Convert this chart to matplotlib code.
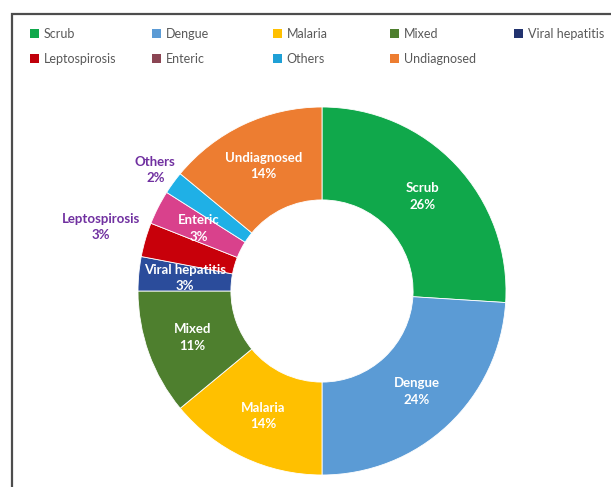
import numpy as np
import matplotlib
matplotlib.use("Agg")
import matplotlib.pyplot as plt
from matplotlib.patches import Rectangle, Patch

categories = ["Scrub", "Dengue", "Malaria", "Mixed", "Viral hepatitis",
              "Leptospirosis", "Enteric", "Others", "Undiagnosed"]
values = [26, 24, 14, 11, 3, 3, 3, 2, 14]
pct_labels = ["26%", "24%", "14%", "11%", "3%", "3%", "3%", "2%", "14%"]

colors = ["#10A84B", "#5B9BD5", "#FFC000", "#4E7F2E", "#2B4C9B",
          "#C8000A", "#D9418C", "#1FB0E6", "#ED7D31"]
legend_colors = ["#10A84B", "#5B9BD5", "#FFC000", "#4E7F2E", "#22336F",
                 "#C0000A", "#8B4553", "#1FA0D6", "#ED7D31"]
outside = {"Leptospirosis": 1.25, "Others": 1.12}

plt.rcParams['font.family'] = ['Lato', 'DejaVu Sans']

W, H = 611, 487
fig = plt.figure(figsize=(W / 100, H / 100), dpi=100)

cx, cy, R = 322, 291, 184
ax = fig.add_axes([(cx - R) / W, (H - cy - R) / H, 2 * R / W, 2 * R / H])
wedges, _ = ax.pie(values, colors=colors, startangle=90, counterclock=False,
                   radius=1.0, wedgeprops=dict(width=0.505, edgecolor="white",
                                               linewidth=0.6))
ax.set_xlim(-1, 1)
ax.set_ylim(-1, 1)
ax.set_aspect("equal")
ax.axis("off")

for w, cat, p in zip(wedges, categories, pct_labels):
    ang = np.deg2rad((w.theta1 + w.theta2) / 2)
    if cat in outside:
        r = outside[cat]
        col = "#7030A0"
    else:
        r = 0.75
        col = "white"
    ax.text(r * np.cos(ang), r * np.sin(ang), f"{cat}\n{p}", ha="center",
            va="center", color=col, fontsize=9.5, fontweight="bold",
            linespacing=1.45)

# Legend: 5 fixed-width columns, 2 rows
col_x = [30, 152, 273, 390, 514]
row_top = 28
for c in range(5):
    idx = [i for i in (c, c + 5) if i < len(categories)]
    handles = [Patch(facecolor=legend_colors[i], edgecolor="none",
                     label=categories[i]) for i in idx]
    fig.legend(handles=handles, loc="upper left",
               bbox_to_anchor=(col_x[c] / W, 1 - row_top / H),
               frameon=False, handlelength=0.75, handleheight=0.75,
               handletextpad=0.35, labelspacing=1.05, borderpad=0,
               borderaxespad=0, fontsize=9, labelcolor="#595959")

# Outer frame (partly cut off at right and bottom)
fig.patches.append(Rectangle((12 / W, -0.1), 1.2, (H - 14) / H + 0.1,
                             transform=fig.transFigure, fill=False,
                             edgecolor="#4D4D4D", linewidth=1.6))

fig.savefig("out.png", dpi=100)
